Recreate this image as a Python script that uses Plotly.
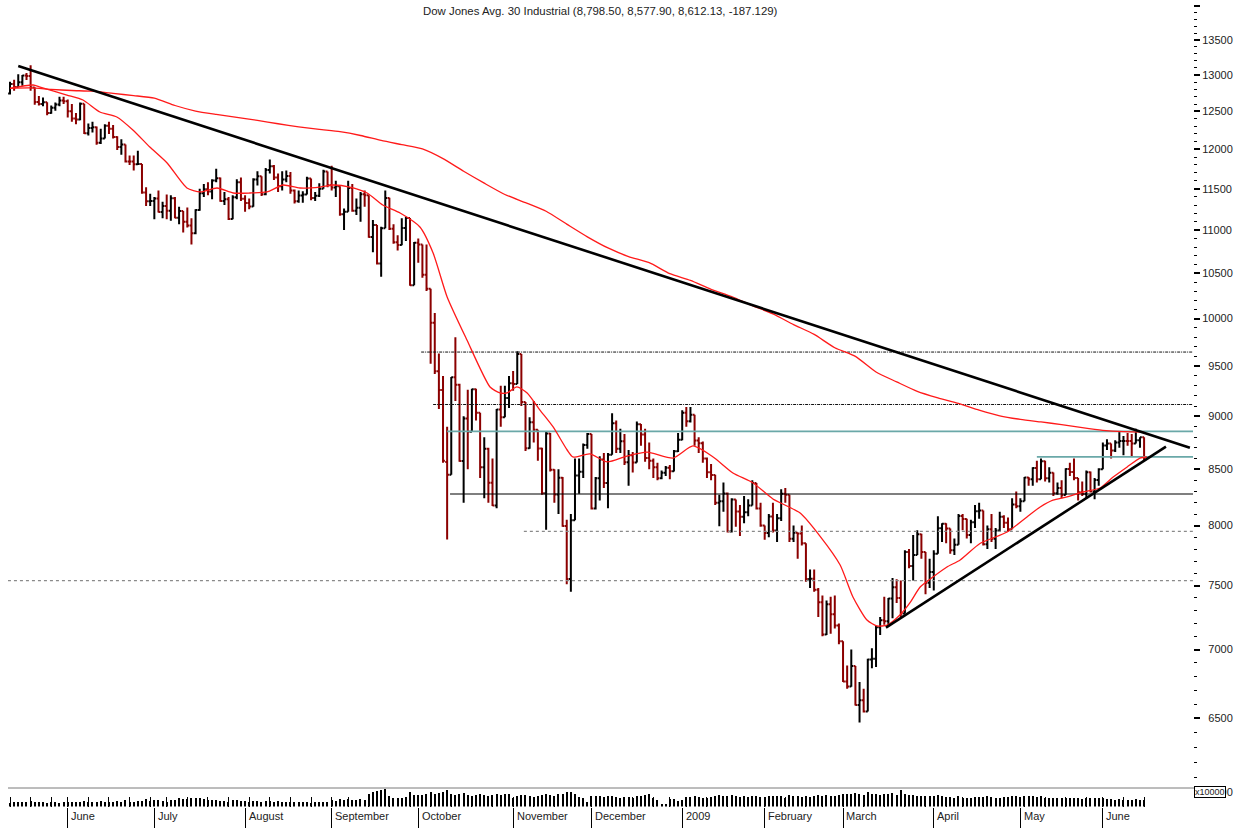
import plotly.graph_objects as go
import pandas as pd

# ---------------- trading calendar ----------------
holidays = ["2008-05-26", "2008-07-04", "2008-09-01", "2008-11-27", "2008-12-25",
            "2009-01-01", "2009-01-19", "2009-02-16", "2009-04-10", "2009-05-25"]
dates = [d for d in pd.bdate_range("2008-05-12", "2009-06-15")
         if d.strftime("%Y-%m-%d") not in holidays]

month_labels = ["June", "July", "August", "September", "October", "November",
                "December", "2009", "February", "March", "April", "May", "June"]

# ---------------- daily OHLC ----------------
opens = [
    12745, 12876, 12832, 12898, 12992, 12986, 12828, 12629, 12601, 12625, 12480, 12548, 12594, 12647,
    12638, 12503, 12404, 12391, 12605, 12210, 12280, 12289, 12084, 12141, 12307, 12269, 12160, 12029, 12063, 11843, 11842, 11807, 11811, 11453, 11346,
    11350, 11382, 11215, 11288, 11231, 11384, 11147, 11229, 11100, 11055, 10962, 11239, 11446, 11496, 11467, 11603, 11632, 11349, 11370, 11131, 11397, 11583,
    11378, 11326, 11284, 11616, 11656, 11432, 11734, 11782, 11642, 11532, 11616, 11659, 11479, 11348, 11417, 11430, 11628, 11387, 11413, 11502, 11715,
    11544, 11516, 11532, 11188, 11220, 11511, 11231, 11268, 11434, 11421, 10917, 11059, 10610, 11020, 11388, 11016, 10855, 10825, 11023, 11143, 10365,
    10851, 10831, 10483, 10325, 9955, 9447, 9258, 8568, 8451, 9387, 9311, 8577, 8979, 8852, 9265, 9034, 8519, 8691, 8378, 8175, 9065, 8990, 9180,
    9325, 9319, 9625, 9139, 8695, 8943, 8870, 8694, 8283, 8835, 8497, 8273, 8424, 7997, 7552, 8046, 8443, 8479, 8727,
    8829, 8149, 8419, 8591, 8376, 8635, 8934, 8691, 8761, 8565, 8629, 8564, 8924, 8824, 8604, 8579, 8519, 8419, 8468, 8515, 8483, 8668,
    8776, 9034, 8952, 9015, 8769, 8742, 8599, 8474, 8448, 8200, 8212, 8281, 7949, 8228, 8123, 8077, 8116, 8175, 8375, 8149,
    8000, 7936, 8078, 7957, 8063, 8280, 8270, 7888, 7939, 7932, 7850, 7552, 7555, 7465, 7366, 7115, 7351, 7271, 7183,
    7063, 6763, 6726, 6876, 6594, 6627, 6547, 6926, 6930, 7170, 7224, 7216, 7395, 7486, 7400, 7278, 7776, 7660, 7750, 7925, 7776, 7522,
    7609, 7761, 7978, 8017, 7975, 7790, 7837, 8084, 8058, 7920, 8029, 8125, 8131, 7841, 7969, 7887, 7958, 8076, 8025, 7969, 8185,
    8168, 8212, 8426, 8410, 8512, 8409, 8575, 8418, 8469, 8284, 8331, 8268, 8504, 8475, 8422, 8292, 8277, 8473, 8300, 8403,
    8500, 8721, 8740, 8675, 8750, 8764, 8764, 8763, 8739, 8770, 8798.5,
]
highs = [
    12905, 12935, 13010, 13000, 13030, 13136, 12830, 12710, 12690, 12625, 12580, 12620, 12700, 12700,
    12660, 12600, 12480, 12620, 12605, 12340, 12360, 12300, 12270, 12330, 12360, 12320, 12170, 12130, 12063, 11920, 11920, 11980, 11811, 11520, 11440,
    11400, 11480, 11340, 11430, 11420, 11400, 11280, 11229, 11270, 11140, 11250, 11500, 11560, 11580, 11620, 11750, 11640, 11460, 11400, 11420, 11620, 11640,
    11420, 11380, 11630, 11720, 11656, 11760, 11870, 11800, 11690, 11720, 11730, 11710, 11490, 11480, 11470, 11650, 11628, 11460, 11570, 11740, 11715,
    11790, 11600, 11532, 11260, 11600, 11560, 11380, 11460, 11480, 11421, 11120, 11059, 11040, 11480, 11390, 11070, 10940, 11140, 11160, 11143, 10860,
    10900, 10831, 10830, 10325, 10060, 9630, 9400, 8900, 9390, 9800, 9320, 9000, 9260, 9270, 9270, 9034, 8800, 8700, 8600, 9070, 9300, 9300, 9400,
    9450, 9653, 9625, 9140, 8990, 9150, 8870, 8700, 8850, 8840, 8500, 8500, 8430, 8050, 8100, 8600, 8600, 8740, 8840,
    8829, 8430, 8620, 8650, 8650, 9030, 8960, 8880, 8830, 8680, 8660, 8950, 8925, 8880, 8750, 8600, 8560, 8490, 8530, 8540, 8680, 8840,
    9060, 9090, 9090, 9015, 8800, 8760, 8610, 8550, 8450, 8270, 8380, 8290, 8240, 8228, 8180, 8260, 8230, 8400, 8375, 8200,
    8000, 8100, 8200, 8100, 8320, 8330, 8270, 8000, 7940, 8000, 7850, 7630, 7630, 7480, 7420, 7380, 7410, 7420, 7200,
    7063, 6880, 7000, 6876, 6760, 6710, 6930, 7010, 7180, 7250, 7410, 7400, 7560, 7550, 7540, 7790, 7800, 7920, 7960, 7930, 7776, 7720,
    7790, 8080, 8020, 8020, 7975, 7890, 8100, 8100, 8060, 8050, 8180, 8200, 8131, 8000, 8100, 7980, 8120, 8090, 8070, 8240, 8300,
    8240, 8430, 8430, 8520, 8580, 8600, 8580, 8520, 8470, 8380, 8400, 8510, 8560, 8600, 8422, 8390, 8490, 8480, 8420, 8510,
    8750, 8780, 8740, 8770, 8850, 8810, 8840, 8830, 8880, 8800, 8798.5,
]
lows = [
    12730, 12780, 12830, 12850, 12930, 12780, 12590, 12580, 12570, 12450, 12470, 12510, 12570, 12600,
    12420, 12360, 12330, 12380, 12200, 12180, 12220, 12060, 12070, 12140, 12200, 12140, 11990, 11930, 11830, 11800, 11730, 11800, 11440, 11290, 11290,
    11130, 11210, 11140, 11130, 11110, 11140, 11070, 10970, 11030, 10830, 10950, 11230, 11400, 11420, 11370, 11580, 11340, 11300, 11120, 11130, 11370, 11350,
    11220, 11250, 11280, 11540, 11410, 11420, 11690, 11610, 11460, 11480, 11580, 11440, 11320, 11330, 11330, 11430, 11360, 11350, 11400, 11500, 11520,
    11480, 11400, 11170, 11000, 11220, 11220, 11180, 11100, 11280, 10910, 10740, 10600, 10460, 11020, 11000, 10840, 10760, 10820, 10870, 10360, 10365,
    10620, 10450, 10300, 9525, 9420, 9070, 8560, 7882, 8450, 9150, 8570, 8200, 8500, 8850, 8960, 8420, 8240, 8200, 8170, 8150, 8900, 8990, 9080,
    9250, 9319, 9100, 8670, 8690, 8750, 8580, 8270, 7965, 8480, 8200, 8100, 7990, 7510, 7449, 8046, 8280, 8420, 8690,
    8140, 8140, 8220, 8330, 8150, 8635, 8650, 8650, 8540, 8350, 8470, 8564, 8720, 8570, 8500, 8420, 8400, 8410, 8440, 8410, 8480, 8660,
    8770, 8900, 8940, 8720, 8650, 8560, 8420, 8400, 8180, 7995, 8120, 7940, 7940, 7990, 7910, 8020, 8080, 8175, 8140, 7990,
    7880, 7900, 7940, 7860, 8040, 8200, 7860, 7860, 7720, 7830, 7530, 7480, 7450, 7250, 7100, 7110, 7120, 7160, 7040,
    6760, 6710, 6725, 6590, 6470, 6540, 6547, 6860, 6870, 7110, 7190, 7180, 7240, 7360, 7250, 7278, 7640, 7540, 7750, 7720, 7430, 7480,
    7460, 7760, 7860, 7850, 7760, 7750, 7837, 7960, 7890, 7850, 7980, 8060, 7830, 7800, 7860, 7800, 7950, 7980, 7950, 7969, 8150,
    8120, 8212, 8350, 8350, 8380, 8409, 8390, 8380, 8260, 8270, 8240, 8268, 8440, 8400, 8220, 8260, 8240, 8290, 8230, 8350,
    8500, 8680, 8600, 8660, 8700, 8630, 8720, 8620, 8739, 8700, 8577.9,
]
closes = [
    12876, 12832, 12898, 12992, 12986, 12828, 12629, 12601, 12625, 12480, 12548, 12594, 12647, 12638,
    12503, 12404, 12391, 12605, 12210, 12280, 12289, 12084, 12141, 12307, 12269, 12160, 12029, 12063, 11843, 11842, 11807, 11811, 11453, 11346, 11350,
    11382, 11215, 11288, 11231, 11384, 11147, 11229, 11100, 11055, 10962, 11239, 11446, 11496, 11467, 11603, 11632, 11349, 11370, 11131, 11397, 11583, 11378,
    11326, 11284, 11616, 11656, 11432, 11734, 11782, 11642, 11532, 11616, 11659, 11479, 11348, 11417, 11430, 11628, 11387, 11413, 11502, 11715, 11544,
    11516, 11532, 11188, 11220, 11511, 11231, 11268, 11434, 11421, 10917, 11059, 10610, 11020, 11388, 11016, 10855, 10825, 11023, 11143, 10365, 10851,
    10831, 10483, 10325, 9955, 9447, 9258, 8579, 8451, 9387, 9311, 8577, 8979, 8852, 9265, 9034, 8519, 8691, 8378, 8175, 9065, 8990, 9180, 9325,
    9319, 9625, 9139, 8695, 8943, 8870, 8694, 8283, 8835, 8497, 8273, 8424, 7997, 7552, 8046, 8443, 8479, 8727, 8829,
    8149, 8419, 8591, 8376, 8635, 8934, 8691, 8761, 8565, 8629, 8564, 8924, 8824, 8604, 8579, 8519, 8419, 8468, 8515, 8483, 8668, 8776,
    9034, 8952, 9015, 8769, 8742, 8599, 8474, 8448, 8200, 8212, 8281, 7949, 8228, 8123, 8077, 8116, 8175, 8375, 8149, 8000,
    7936, 8078, 7957, 8063, 8280, 8270, 7888, 7939, 7932, 7850, 7552, 7555, 7465, 7366, 7115, 7351, 7271, 7183, 7063,
    6763, 6726, 6876, 6594, 6627, 6547, 6926, 6930, 7170, 7224, 7216, 7395, 7486, 7400, 7278, 7776, 7660, 7750, 7925, 7776, 7522, 7609,
    7761, 7978, 8017, 7975, 7790, 7837, 8084, 8058, 7920, 8029, 8125, 8131, 7841, 7969, 7887, 7958, 8076, 8025, 7969, 8185, 8168,
    8212, 8426, 8410, 8512, 8409, 8575, 8418, 8469, 8284, 8331, 8268, 8504, 8475, 8422, 8292, 8277, 8473, 8300, 8403, 8500,
    8721, 8740, 8675, 8750, 8764, 8764, 8763, 8739, 8770, 8799, 8612.13,
]
volume = [
    90, 110, 100, 110, 100, 130, 120, 110, 100, 90, 100, 110, 90, 110,
    110, 120, 120, 120, 140, 100, 120, 110, 130, 120, 100, 120, 130, 120, 150, 110, 120, 130, 140, 180, 140,
    150, 160, 140, 120, 160, 170, 200, 180, 190, 210, 220, 210, 190, 170, 160, 150, 140, 130, 120, 150, 160, 140,
    130, 120, 140, 130, 120, 140, 130, 120, 130, 120, 100, 100, 110, 100, 110, 100, 90, 100, 110, 110, 120,
    160, 140, 180, 160, 190, 170, 160, 180, 160, 300, 350, 380, 400, 440, 260, 220, 200, 210, 240, 360, 280,
    280, 290, 310, 360, 320, 340, 350, 400, 320, 280, 310, 340, 290, 260, 280, 310, 280, 270, 290, 310, 280, 320, 300,
    220, 250, 280, 290, 260, 240, 250, 280, 310, 280, 260, 300, 320, 350, 370, 310, 240, 200, 120,
    250, 270, 260, 240, 250, 270, 230, 220, 240, 230, 210, 260, 250, 280, 310, 200, 160, 60, 70, 180, 190, 140,
    160, 230, 240, 250, 230, 210, 220, 230, 260, 280, 260, 250, 280, 260, 240, 250, 230, 260, 250, 240,
    240, 250, 270, 260, 250, 210, 280, 250, 260, 240, 260, 240, 270, 280, 260, 280, 270, 260, 280,
    310, 320, 300, 330, 310, 290, 360, 310, 300, 280, 320, 310, 330, 280, 420, 300, 280, 290, 270, 260, 260, 250,
    260, 280, 260, 240, 230, 210, 250, 220, 210, 220, 230, 240, 230, 250, 240, 220, 210, 230, 240, 250, 260,
    230, 250, 260, 270, 240, 250, 210, 220, 210, 200, 210, 220, 200, 210, 220, 180, 200, 220, 210, 200,
    200, 190, 180, 170, 190, 160, 150, 160, 180, 170, 160,
]

# ---------------- moving averages ----------------
ma_long_idx = list(range(0, 276, 5))
ma_long_val = [12815, 12820, 12800, 12785, 12775, 12745, 12715, 12680, 12580, 12505,
               12460, 12420, 12380, 12335, 12295, 12260, 12230, 12180, 12115, 12060,
               12005, 11880, 11720, 11570, 11430, 11330, 11225, 11070, 10920, 10790,
               10690, 10620, 10495, 10420, 10320, 10240, 10140, 10050, 9935, 9830,
               9690, 9600, 9440, 9340, 9245, 9180, 9125, 9060, 9005, 8970,
               8945, 8920, 8890, 8865, 8852, 8848]

ma_short_idx = [0, 5.6, 7.3, 13.8, 17.7, 21.8, 25.9, 29.8, 33.9, 38.1, 42.9, 46.1, 50.2, 54.1,
                58.2, 62.3, 66.2, 70.3, 75.2, 78.3, 82.4, 86.6, 90.4, 94.6, 99.4, 102.6, 106,
                110.8, 116.4, 118.8, 120.5, 122.9, 125.4, 128.5, 131.7, 135.1, 136.5, 140.6,
                144.8, 149.6, 154.5, 160.8, 165.6, 170.5, 175.3, 180.2, 185, 191.6, 196.4,
                201.3, 204.4, 207.8, 210.2, 212.7, 215.8, 218.2, 220.7, 223.8, 227.2, 230.4,
                235.2, 241.8, 246.6, 249.8, 252.9, 256.3, 260.2, 264.3, 267.5, 270.9, 274, 275.7]
ma_short_val = [12815, 12861, 12833, 12723, 12655, 12492, 12425, 12252, 12030, 11824, 11510, 11461, 11510, 11448,
                11448, 11461, 11547, 11510, 11522, 11547, 11522, 11448, 11301, 11204, 11036, 10731, 10235,
                9771, 9289, 9229, 9229, 9289, 9229, 9061, 8897, 8679, 8614, 8642,
                8568, 8623, 8660, 8604, 8717, 8614, 8467, 8376, 8233, 8109, 7910,
                7667, 7408, 7226, 7180, 7187, 7265, 7360, 7488, 7569, 7651, 7709,
                7847, 7945, 8075, 8162, 8223, 8251, 8295, 8331, 8430, 8522, 8604, 8614]

# ---------------- trend lines & horizontal levels ----------------
trend_down_idx = [2.0, 286.1]
trend_down_val = [13127, 8701]
trend_up_idx = [212.4, 280.3]
trend_up_val = [7167, 8710]

level_vals = [7540, 7950, 8277, 8855, 8615, 9115, 9645]
level_from = [-0.5, 124.6, 106.7, 106.0, 249.0, 102.6, 99.7]
level_to = 287
level_styles = [("#8a8a8a", "dot", 1.2), ("#8a8a8a", "dot", 1.2), ("#000000", "solid", 1.2),
                ("#6aa8a8", "solid", 1.6), ("#6aa8a8", "solid", 1.6),
                ("#111111", "3px,1px,1px,1px", 1.0), ("#111111", "3px,1px,1px,1px", 1.0)]

title_text = "Dow Jones Avg. 30 Industrial (8,798.50, 8,577.90, 8,612.13, -187.129)"

# ---------------- build figure ----------------
N = len(closes)
xs = list(range(N))

month_idx = [i for i in range(1, N) if dates[i].month != dates[i - 1].month]
week_idx = [i for i in range(N) if i == 0 or dates[i].weekday() < dates[i - 1].weekday()]
# tiny offset so the upper (inside) tick part is drawn at month starts as well
week_ticks = [i + 0.01 if i in month_idx else i for i in week_idx]

W, H = 1239, 828
FONT = "Liberation Sans, Arial, sans-serif"

fig = go.Figure()

for lv, lf, (col, dash, w) in zip(level_vals, level_from, level_styles):
    fig.add_trace(go.Scatter(x=[lf, level_to], y=[lv, lv], mode="lines",
                             line=dict(color=col, dash=dash, width=w),
                             hoverinfo="skip", showlegend=False))

fig.add_trace(go.Scatter(x=ma_long_idx, y=ma_long_val, mode="lines",
                         line=dict(color="#ff1a1a", width=1.3, shape="spline", smoothing=0.6),
                         hoverinfo="skip", showlegend=False))
fig.add_trace(go.Scatter(x=ma_short_idx, y=ma_short_val, mode="lines",
                         line=dict(color="#ff1a1a", width=1.3, shape="spline", smoothing=0.6),
                         hoverinfo="skip", showlegend=False))

fig.add_trace(go.Ohlc(x=xs, open=opens, high=highs, low=lows, close=closes,
                      increasing=dict(line=dict(color="#000000", width=2)),
                      decreasing=dict(line=dict(color="#8b0000", width=2)),
                      tickwidth=0.45, hoverinfo="skip", showlegend=False))

fig.add_trace(go.Scatter(x=trend_down_idx, y=trend_down_val, mode="lines",
                         line=dict(color="#000000", width=2.6), hoverinfo="skip", showlegend=False))
fig.add_trace(go.Scatter(x=trend_up_idx, y=trend_up_val, mode="lines",
                         line=dict(color="#000000", width=2.6), hoverinfo="skip", showlegend=False))

fig.add_trace(go.Bar(x=xs, y=volume, yaxis="y2", marker=dict(color="#000000", line=dict(width=0)),
                     width=0.28, hoverinfo="skip", showlegend=False))

# price axis ticks
major_vals = list(range(6000, 14001, 500))
major_text = []
for v in major_vals:
    if v == 14000:
        major_text.append("")
    elif v < 10000:
        major_text.append("\u00a0\u00a0" + str(v))
    else:
        major_text.append(str(v))
minor_vals = [v for v in range(6000, 14001, 100) if v % 500 != 0]


def py(px):
    return 1 - px / H


fig.update_layout(
    width=W, height=H,
    margin=dict(l=0, r=0, t=0, b=0),
    paper_bgcolor="white", plot_bgcolor="white",
    font=dict(family=FONT, size=11, color="#222222"),
    showlegend=False, bargap=0,
    xaxis=dict(domain=[8 / W, 1193 / W], range=[-0.485, 286.86], anchor="y2",
               rangeslider=dict(visible=False), showgrid=False, zeroline=False, showline=False,
               tickmode="array", tickvals=month_idx, ticktext=[""] * len(month_idx),
               ticks="outside", ticklen=21, tickcolor="#000000", tickwidth=1,
               minor=dict(tickmode="array", tickvals=week_ticks, ticks="inside", ticklen=10,
                          tickcolor="#000000", tickwidth=1, showgrid=False)),
    yaxis=dict(type="log", domain=[py(797), py(5)], range=[3.77609, 4.14671],
               side="right", anchor="x", showgrid=False, zeroline=False, showline=False,
               tickmode="array", tickvals=major_vals, ticktext=major_text,
               ticks="outside", ticklen=6, tickcolor="#000000", tickwidth=1.5,
               tickfont=dict(family=FONT, size=11, color="#222222"),
               minor=dict(tickmode="array", tickvals=minor_vals, ticks="outside", ticklen=3,
                          tickcolor="#000000", tickwidth=1, showgrid=False)),
    yaxis2=dict(domain=[py(806.5), py(788)], range=[0, 460], visible=False, anchor="x"),
)

# volume panel separator line
fig.add_shape(type="line", xref="paper", yref="paper", x0=8 / W, x1=1194 / W,
              y0=py(788), y1=py(788), line=dict(color="#7a7a7a", width=1))

annotations = [dict(text=title_text, xref="paper", yref="paper", x=600 / W, y=py(11),
                    xanchor="center", yanchor="middle", showarrow=False,
                    font=dict(family=FONT, size=11.4, color="#222222"))]
for mi, lab in zip(month_idx, month_labels):
    annotations.append(dict(text=lab, xref="x", yref="paper", x=mi + 0.35, y=py(816),
                            xanchor="left", yanchor="middle", showarrow=False,
                            font=dict(family=FONT, size=11, color="#222222")))
annotations.append(dict(text="x10000", xref="paper", yref="paper", x=1194 / W, y=py(792),
                        xanchor="left", yanchor="middle", showarrow=False,
                        bgcolor="white", bordercolor="#000000", borderwidth=1, borderpad=0,
                        font=dict(family=FONT, size=9, color="#222222")))
fig.update_layout(annotations=annotations)

fig.write_html("out.html", config={"displayModeBar": False},
               post_script="document.body.style.margin='0';document.body.style.overflow='hidden';")
